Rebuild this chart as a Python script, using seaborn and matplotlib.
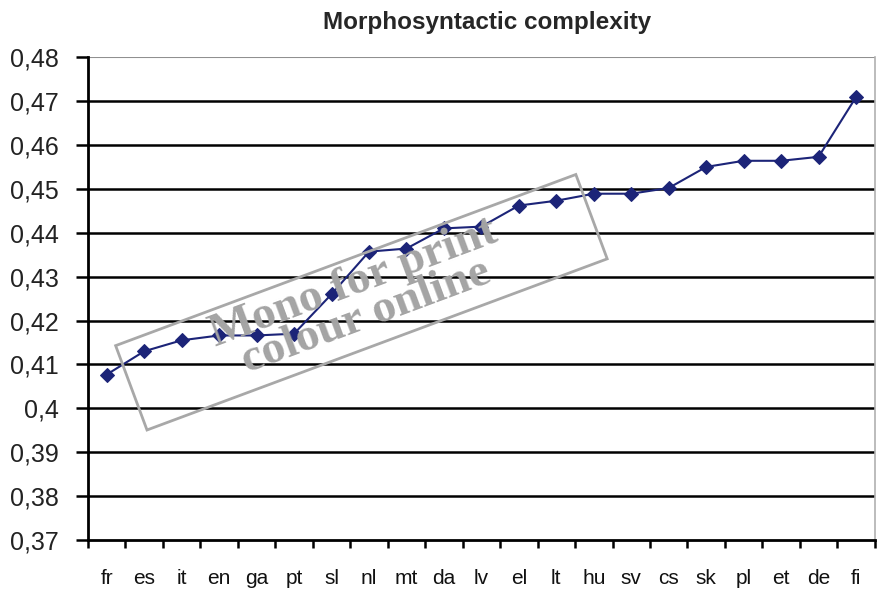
import numpy as np
import pandas as pd
import matplotlib
matplotlib.use('Agg')
import matplotlib.pyplot as plt
import matplotlib.transforms as mtransforms
from matplotlib.patches import Rectangle
import seaborn as sns

# data
languages = ['fr', 'es', 'it', 'en', 'ga', 'pt', 'sl', 'nl', 'mt', 'da', 'lv',
             'el', 'lt', 'hu', 'sv', 'cs', 'sk', 'pl', 'et', 'de', 'fi']
complexity = [0.4077, 0.4130, 0.4155, 0.4166, 0.4166, 0.4170, 0.4260, 0.4357,
              0.4364, 0.4410, 0.4414, 0.4462, 0.4473, 0.4489, 0.4489, 0.4502,
              0.4550, 0.4564, 0.4564, 0.4573, 0.4709]
y_ticks = [0.37, 0.38, 0.39, 0.40, 0.41, 0.42, 0.43, 0.44, 0.45, 0.46, 0.47, 0.48]
y_labels = ['0,37', '0,38', '0,39', '0,4', '0,41', '0,42', '0,43', '0,44',
            '0,45', '0,46', '0,47', '0,48']

df = pd.DataFrame({'lang': languages, 'value': complexity})
df['pos'] = np.arange(len(df))

sns.set_style('white')
plt.rcParams['font.family'] = ['Liberation Sans', 'DejaVu Sans']

fig = plt.figure(figsize=(8.81, 5.96), dpi=100)
ax = fig.add_axes([0.0999, 0.094, 0.893, 0.810])

# horizontal grid lines (black, like the Excel original)
for t in y_ticks[1:-1]:
    ax.axhline(t, color='black', lw=1.8, zorder=1)
ax.axhline(0.48, color='#909090', lw=1.5, zorder=1)

sns.lineplot(data=df, x='pos', y='value', ax=ax, color='#1c2478', lw=1.5,
             marker='D', markersize=7, markeredgecolor='#1c2478', zorder=3)

ax.set_xlim(-0.5, len(languages) - 0.5)
ax.set_ylim(0.37, 0.48)
ax.set_yticks(y_ticks)
ax.set_yticklabels(y_labels, fontsize=18, color='#222222')
ax.set_xticks(df['pos'])
ax.set_xticklabels(languages, fontsize=15, color='#111111')
ax.set_xticks(np.arange(-0.5, len(languages)), minor=True)
ax.tick_params(axis='x', which='major', bottom=True, length=0, pad=21)
ax.tick_params(axis='x', which='minor', bottom=True, length=6, width=1.8,
               color='black', direction='out')
ax.tick_params(axis='y', left=True, length=9, width=1.8, color='black',
               direction='out', pad=12)
ax.set_xlabel('')
ax.set_ylabel('')

for s in ['left', 'bottom']:
    ax.spines[s].set_color('black')
    ax.spines[s].set_linewidth(2)
ax.spines['top'].set_visible(False)
ax.spines['right'].set_color('#b0b0b0')
ax.spines['right'].set_linewidth(1.2)

fig.text(0.553, 0.962, 'Morphosyntactic complexity', ha='center', va='center',
         fontsize=17.5, fontweight='bold')

# "Mono for print / colour online" stamp
ident = mtransforms.IdentityTransform()
stamp = Rectangle((147, 166), 491, 90, angle=20.4, transform=ident,
                  fill=False, edgecolor='#a8a8a8', lw=2, zorder=5)
fig.add_artist(stamp)
fig.text(360, 596 - 300, 'Mono for print\ncolour online', transform=ident,
         rotation=20.4, rotation_mode='anchor', ha='center', va='center',
         multialignment='center', fontsize=34, fontweight='bold',
         family='Liberation Serif', color='#a4a4a4', linespacing=0.8, zorder=6)

fig.savefig('out.png', dpi=100)
